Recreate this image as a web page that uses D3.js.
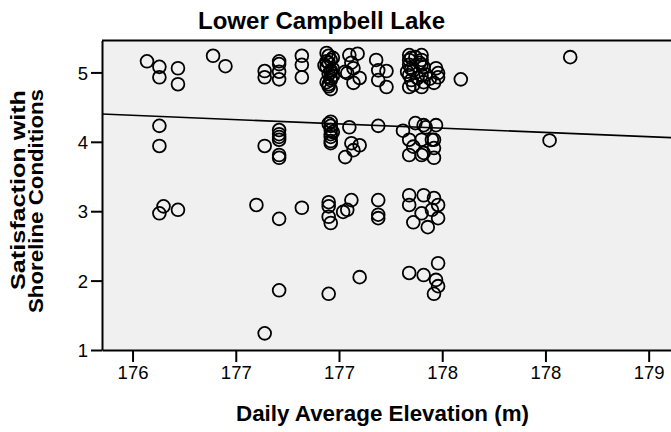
<!DOCTYPE html>
<html><head><meta charset="utf-8">
<script src="https://cdn.jsdelivr.net/npm/d3@7"></script>
<style>body{margin:0;background:#fff}svg{display:block}text{font-family:"Liberation Sans",Arial,sans-serif}</style>
</head><body><svg id="c" width="671" height="432"></svg>
<script>
const title = "Lower Campbell Lake";
const xTitle = "Daily Average Elevation (m)";
const yTitleLines = ["Satisfaction with", "Shoreline Conditions"];
const xTickValues = [176, 176.5, 177, 177.5, 178, 178.5];
const xTickLabels = ["176", "177", "177", "178", "178", "179"];
const yTickValues = [1, 2, 3, 4, 5];
const yTickLabels = ["1", "2", "3", "4", "5"];
const xDomain = [175.852, 178.613];
const yDomain = [1, 5.46];
// fit line end points (elevation, satisfaction)
const fitElevation = [175.852, 178.613];
const fitSatisfaction = [4.40, 4.06];

const elevation = [
 176.07,176.13,176.13,176.22,176.22,176.39,176.45,176.64,176.64,176.71,176.71,176.71,176.71,176.82,176.82,176.82,
 176.13,176.13,176.64,176.71,176.71,176.71,176.71,176.71,176.71,
 176.15,176.13,176.22,176.60,176.71,176.82,
 176.71,176.64,
 176.94,176.95,176.96,176.95,176.94,176.96,176.95,176.96,176.94,176.95,176.96,
 176.97,176.93,176.96,176.97,176.94,176.96,176.97,176.95,
 177.05,177.09,177.06,177.03,177.07,177.10,177.04,177.07,
 177.18,177.19,177.19,177.23,177.23,
 177.34,177.40,177.34,177.40,177.34,177.40,177.34,177.40,177.47,177.48,177.46,177.35,177.41,177.48,177.34,177.40,177.36,
 177.35,177.39,177.33,177.41,177.36,177.38,177.35,177.42,177.37,177.44,
 177.59,178.12,
 176.96,176.96,176.96,176.96,176.96,176.96,
 176.95,176.97,176.96,
 177.05,177.06,177.10,177.03,177.07,
 177.19,
 177.31,177.37,177.42,177.47,177.34,177.40,177.46,177.34,177.40,177.46,177.36,177.41,177.45,177.41,177.46,
 178.02,
 176.95,176.95,176.96,177.06,177.04,177.02,176.95,
 177.19,177.19,177.19,
 177.34,177.34,177.41,177.46,177.48,177.36,177.43,177.40,177.48,177.45,
 176.95,177.10,177.34,177.41,177.48,177.47,177.48,177.46
];
const satisfaction = [
 5.16,5.08,4.93,5.06,4.83,5.24,5.09,5.02,4.93,5.16,5.12,5.01,4.90,5.24,5.11,4.93,
 4.23,3.94,3.94,4.17,4.11,4.07,4.03,3.81,3.77,
 3.07,2.97,3.02,3.09,2.89,3.05,
 1.86,1.24,
 5.28,5.24,5.18,5.14,5.08,5.03,4.98,4.92,4.86,4.80,4.76,
 5.21,5.10,5.00,4.95,5.16,4.89,5.05,4.83,
 5.25,5.27,5.14,5.01,4.85,4.92,4.99,5.06,
 5.18,5.03,4.89,5.02,4.79,
 5.25,5.25,5.11,5.11,4.96,4.96,4.79,4.79,5.06,4.93,4.85,4.89,4.86,4.99,5.18,5.18,5.03,
 5.21,5.14,5.01,5.08,4.82,4.92,5.05,4.97,5.22,4.91,
 4.90,5.22,
 4.29,4.23,4.17,4.11,4.07,3.98,
 4.26,4.14,4.01,
 4.21,3.98,3.95,3.78,3.88,
 4.23,
 4.16,4.27,4.21,4.24,4.03,4.03,4.03,3.81,3.81,3.77,3.93,4.24,4.03,3.84,3.91,
 4.02,
 3.13,2.92,2.83,3.16,3.02,2.99,3.07,
 3.16,2.95,2.90,
 3.23,3.09,3.23,3.19,3.09,2.84,2.77,2.97,2.90,3.02,
 1.81,2.05,2.11,2.08,2.25,2.01,1.92,1.81
];

const svg = d3.select("#c");
const x = d3.scaleLinear().domain(xDomain).range([102, 672]);
const y = d3.scaleLinear().domain(yDomain).range([350, 40.5]);

svg.append("rect").attr("x", x(xDomain[0])).attr("y", y(yDomain[1]))
  .attr("width", x(xDomain[1]) - x(xDomain[0])).attr("height", y(yDomain[0]) - y(yDomain[1]))
  .attr("fill", "#f0f0f0");
svg.append("line").attr("x1", x(xDomain[0])).attr("x2", x(xDomain[1]))
  .attr("y1", y(yDomain[1])).attr("y2", y(yDomain[1])).attr("stroke", "#000").attr("stroke-width", 2);

const pts = elevation.map((e, i) => ({e, s: satisfaction[i]}));
svg.append("g").selectAll("circle").data(pts).join("circle")
  .attr("cx", d => x(d.e)).attr("cy", d => y(d.s)).attr("r", 6.4)
  .attr("fill", "none").attr("stroke", "#000").attr("stroke-width", 1.8);

svg.append("line").attr("x1", x(fitElevation[0])).attr("x2", x(fitElevation[1]))
  .attr("y1", y(fitSatisfaction[0])).attr("y2", y(fitSatisfaction[1]))
  .attr("stroke", "#000").attr("stroke-width", 1.6);

const xAxis = d3.axisBottom(x).tickValues(xTickValues).tickFormat((d, i) => xTickLabels[i]).tickSizeInner(12).tickSizeOuter(0).tickPadding(4);
const gx = svg.append("g").attr("transform", `translate(0,${y(yDomain[0])})`).call(xAxis);
const yAxis = d3.axisLeft(y).tickValues(yTickValues).tickFormat((d, i) => yTickLabels[i]).tickSizeInner(11).tickSizeOuter(0).tickPadding(3);
const gy = svg.append("g").attr("transform", `translate(${x(xDomain[0])},0)`).call(yAxis);
[gx, gy].forEach(g => {
  g.selectAll("path,line").attr("stroke", "#000").attr("stroke-width", 2);
  g.selectAll("text").attr("fill", "#000").style("font-size", "18.5px").style("font-family", "'Liberation Sans', Arial, sans-serif");
});
gy.selectAll("text").attr("dy", "0.36em");

svg.append("text").attr("x", 198).attr("y", 29)
  .attr("textLength", 247).attr("lengthAdjust", "spacingAndGlyphs")
  .style("font-size", "23px").style("font-weight", "bold").text(title);
svg.append("text").attr("x", 236).attr("y", 421)
  .attr("textLength", 293).attr("lengthAdjust", "spacingAndGlyphs")
  .style("font-size", "22px").style("font-weight", "bold").text(xTitle);
const yLens = [200, 224];
const yStarts = [290, 313];
const yBase = [25, 43];
yTitleLines.forEach((t, i) => {
  svg.append("text").attr("transform", `translate(${yBase[i]},${yStarts[i]}) rotate(-90)`)
    .attr("textLength", yLens[i]).attr("lengthAdjust", "spacingAndGlyphs")
    .style("font-size", "21px").style("font-weight", "bold").text(t);
});
</script></body></html>
